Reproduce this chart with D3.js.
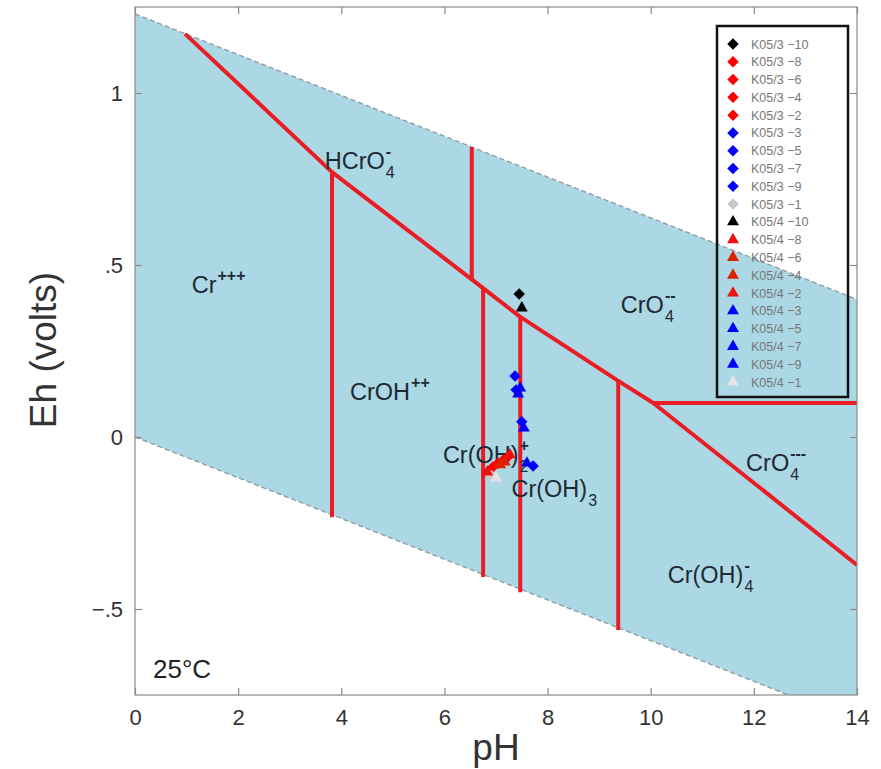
<!DOCTYPE html>
<html>
<head>
<meta charset="utf-8">
<script src="https://cdn.jsdelivr.net/npm/d3@7"></script>
<style>
  html, body { margin: 0; padding: 0; background: #ffffff; }
  svg { display: block; font-family: "Liberation Sans", Arial, Helvetica, sans-serif; }
</style>
</head>
<body>
<svg id="chart" width="881" height="769"></svg>
<script>
// ---------------- DATA ----------------
const phTicks = [0, 2, 4, 6, 8, 10, 12, 14];
const ehTicks = [-0.5, 0, 0.5, 1];
const ehTickLabels = ["\u2212.5", "0", ".5", "1"];

// water stability field (upper and lower limits)
const waterUpper = [[0, 1.23], [14, 0.40]];
const waterLower = [[0, 0.0], [12.67, -0.75]];

// species boundary lines (pH, Eh)
const boundaryMain = [[0.97, 1.172], [3.82, 0.770], [6.75, 0.433], [7.47, 0.349], [9.37, 0.163], [10.05, 0.099]];
const boundaryCrO4 = [[10.05, 0.099], [14, -0.372]];
const boundaryFlat = [[10.05, 0.099], [14, 0.099]];
const boundaryV1 = [[3.82, 0.770], [3.82, -0.233]];
const boundaryV2 = [[6.53, 0.843], [6.53, 0.456]];
const boundaryV3 = [[6.75, 0.433], [6.75, -0.407]];
const boundaryV4 = [[7.47, 0.349], [7.47, -0.451]];
const boundaryV5 = [[9.37, 0.163], [9.37, -0.561]];

// samples
const sampleNames = ["K05/3 \u221210", "K05/3 \u22128", "K05/3 \u22126", "K05/3 \u22124", "K05/3 \u22122",
                     "K05/3 \u22123", "K05/3 \u22125", "K05/3 \u22127", "K05/3 \u22129", "K05/3 \u22121",
                     "K05/4 \u221210", "K05/4 \u22128", "K05/4 \u22126", "K05/4 \u22124", "K05/4 \u22122",
                     "K05/4 \u22123", "K05/4 \u22125", "K05/4 \u22127", "K05/4 \u22129", "K05/4 \u22121"];
const samplePH = [7.45, 7.23, 7.14, 7.04, 6.94, 7.37, 7.39, 7.50, 7.72, 6.92,
                  7.50, 7.27, 7.17, 7.08, 6.83, 7.43, 7.47, 7.54, 7.60, 7.00];
const sampleEh = [0.416, -0.058, -0.067, -0.076, -0.087, 0.177, 0.137, 0.044, -0.084, -0.113,
                  0.375, -0.052, -0.073, -0.081, -0.102, 0.125, 0.142, 0.026, -0.076, -0.119];
const sampleShape = ["diamond","diamond","diamond","diamond","diamond","diamond","diamond","diamond","diamond","diamond",
                     "triangle","triangle","triangle","triangle","triangle","triangle","triangle","triangle","triangle","triangle"];
const sampleColor = ["#000000","#ff0000","#ff0000","#ff0000","#ff0000","#0000ff","#0000ff","#0000ff","#0000ff","#c8c8c8",
                     "#000000","#ee1111","#dd2200","#dd2200","#ee1111","#0000ff","#0000ff","#0000ff","#0000ff","#e4e4e4"];

// species field labels
const speciesMain = ["HCrO", "Cr", "CrOH", "CrO", "Cr(OH)", "Cr(OH)", "CrO", "Cr(OH)"];
const speciesSub  = ["4", "", "", "4", "2", "3", "4", "4"];
const speciesSup  = ["-", "+++", "++", "--", "+", "", "---", "-"];
const speciesPH   = [3.68, 1.10, 4.17, 9.42, 5.97, 7.30, 11.85, 10.33];
const speciesEh   = [0.780, 0.419, 0.108, 0.360, -0.075, -0.175, -0.100, -0.425];

// ---------------- CHART ----------------
const svg = d3.select("#chart");
const x = d3.scaleLinear().domain([0, 14]).range([135, 857]);
const y = d3.scaleLinear().domain([-0.75, 1.25]).range([695, 7]);

const defs = svg.append("defs");
defs.append("clipPath").attr("id", "plotclip")
  .append("rect").attr("x", x(0)).attr("y", y(1.25)).attr("width", x(14) - x(0)).attr("height", y(-0.75) - y(1.25));

const plot = svg.append("g").attr("clip-path", "url(#plotclip)");

// stability field fill
const fieldPoly = [waterUpper[0], waterUpper[1], [14, -0.75], waterLower[1], waterLower[0]];
plot.append("path")
  .attr("d", d3.line().x(d => x(d[0])).y(d => y(d[1]))(fieldPoly) + "Z")
  .attr("fill", "#acd7e4");

const line = d3.line().x(d => x(d[0])).y(d => y(d[1]));
[waterUpper, waterLower].forEach(seg => {
  plot.append("path").attr("d", line(seg))
    .attr("fill", "none").attr("stroke", "#8e9ea6").attr("stroke-width", 1.4)
    .attr("stroke-dasharray", "5,3");
});

// boundaries
[boundaryMain, boundaryCrO4, boundaryFlat, boundaryV1, boundaryV2, boundaryV3, boundaryV4, boundaryV5].forEach(seg => {
  plot.append("path").attr("d", line(seg))
    .attr("fill", "none").attr("stroke", "#ea1c24").attr("stroke-width", 4)
    .attr("stroke-linejoin", "round");
});

// species labels (sub- and superscripts stacked after the formula)
const labG = svg.append("g").attr("fill", "#1e2a33");
speciesMain.forEach((m, i) => {
  const t = labG.append("text").attr("x", x(speciesPH[i])).attr("y", y(speciesEh[i]))
    .attr("font-size", 23.5).text(m);
  const w = t.node().getComputedTextLength();
  if (speciesSub[i]) {
    labG.append("text").attr("x", x(speciesPH[i]) + w + 1).attr("y", y(speciesEh[i]) + 9)
      .attr("font-size", 16).text(speciesSub[i]);
  }
  if (speciesSup[i]) {
    labG.append("text").attr("x", x(speciesPH[i]) + w + 1).attr("y", y(speciesEh[i]) - 12)
      .attr("font-size", 16).attr("font-weight", "bold").text(speciesSup[i]);
  }
});

labG.append("text").attr("x", 153).attr("y", 678).attr("font-size", 26).attr("fill", "#222").text("25\u00b0C");

// sample symbols
const symDiamond = d3.symbol().type(d3.symbolSquare).size(66);
const symTriangle = d3.symbol().type(d3.symbolTriangle).size(62);
const ptsG = svg.append("g");
sampleNames.forEach((n, i) => {
  const p = ptsG.append("path")
    .attr("d", sampleShape[i] === "diamond" ? symDiamond() : symTriangle())
    .attr("fill", sampleColor[i]);
  if (sampleShape[i] === "diamond") p.attr("transform", `translate(${x(samplePH[i])},${y(sampleEh[i])}) rotate(45)`);
  else p.attr("transform", `translate(${x(samplePH[i])},${y(sampleEh[i])})`);
});

// frame
svg.append("rect").attr("x", x(0)).attr("y", y(1.25)).attr("width", x(14) - x(0)).attr("height", y(-0.75) - y(1.25))
  .attr("fill", "none").attr("stroke", "#8a8a8a").attr("stroke-width", 1.2);

// axes
const axB = d3.axisBottom(x).tickValues(phTicks).tickSizeInner(-7).tickSizeOuter(0).tickPadding(14).tickFormat(d3.format("d"));
const gB = svg.append("g").attr("transform", `translate(0,${y(-0.75)})`).call(axB);
const axL = d3.axisLeft(y).tickValues(ehTicks).tickSizeInner(-7).tickSizeOuter(0).tickPadding(12)
  .tickFormat((d, i) => ehTickLabels[i]);
const gL = svg.append("g").attr("transform", `translate(${x(0)},0)`).call(axL);
const axR = d3.axisRight(y).tickValues(ehTicks).tickSizeInner(-7).tickSizeOuter(0).tickFormat("");
const gR = svg.append("g").attr("transform", `translate(${x(14)},0)`).call(axR);
const axT = d3.axisTop(x).tickValues(phTicks).tickSizeInner(-7).tickSizeOuter(0).tickFormat("");
const gT = svg.append("g").attr("transform", `translate(0,${y(1.25)})`).call(axT);
[gB, gL, gR, gT].forEach(g => {
  g.select(".domain").remove();
  g.selectAll(".tick line").attr("stroke", "#8a8a8a").attr("stroke-width", 1.2);
  g.selectAll(".tick text").attr("fill", "#333").attr("font-size", 22)
    .attr("font-family", "'Liberation Sans', Arial, sans-serif");
});

// axis titles
svg.append("text").attr("x", x(7)).attr("y", 760).attr("text-anchor", "middle")
  .attr("font-size", 37).attr("fill", "#333").text("pH");
svg.append("text").attr("transform", `translate(56,350) rotate(-90)`).attr("text-anchor", "middle")
  .attr("font-size", 37).attr("fill", "#333").text("Eh (volts)");

// legend
const lg = svg.append("g");
lg.append("rect").attr("x", 717).attr("y", 26).attr("width", 131).attr("height", 371)
  .attr("fill", "none").attr("stroke", "#111").attr("stroke-width", 2.5);
const legY = d3.scaleLinear().domain([0, sampleNames.length - 1]).range([44, 382]);
sampleNames.forEach((n, i) => {
  const p = lg.append("path")
    .attr("d", sampleShape[i] === "diamond" ? symDiamond() : symTriangle())
    .attr("fill", sampleColor[i]);
  if (sampleShape[i] === "diamond") p.attr("transform", `translate(733,${legY(i)}) rotate(45)`);
  else p.attr("transform", `translate(733,${legY(i)})`);
  lg.append("text").attr("x", 751).attr("y", legY(i) + 4.5).attr("font-size", 12.5)
    .attr("fill", "#777").text(n);
});
</script>
</body>
</html>
